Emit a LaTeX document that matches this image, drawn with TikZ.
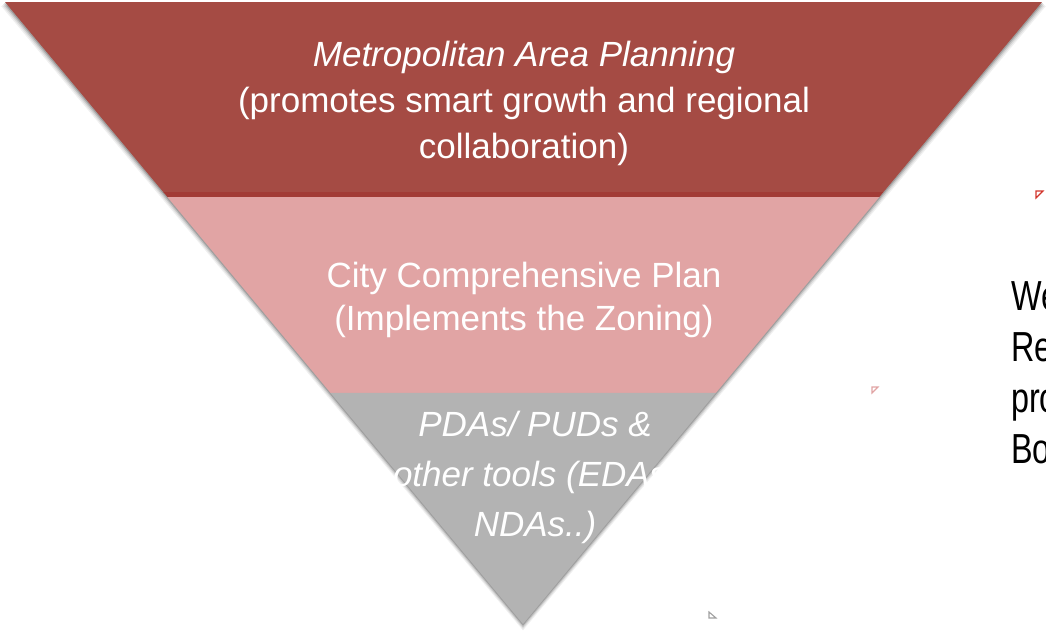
\documentclass[tikz,border=0pt]{standalone}
\usepackage{fontspec}
\setmainfont{Liberation Sans}
\newfontfamily\narrowfont[FakeStretch=0.77]{Liberation Sans}
\definecolor{metro-red}{HTML}{A54B44}
\definecolor{metro-edge}{HTML}{A23B36}
\definecolor{city-pink}{HTML}{E1A4A4}
\definecolor{tools-grey}{HTML}{B3B3B3}
\definecolor{mark-red}{HTML}{D2352C}
\usetikzlibrary{calc}
\tikzset{
  tier/.style={
    draw=none, fill=#1
  },
  tierlabel/.style={
    text=white, align=center, inner sep=0pt,
    font=\fontsize{35}{43}\selectfont
  },
  marker/.style={
    draw=#1, fill=white, line width=1.1pt, line join=miter
  }
}

\begin{document}
\begin{tikzpicture}[x=1pt, y=-1pt]
        \useasboundingbox (0,0) rectangle (1046,637);
        \coordinate (tl) at (5,2);
        \coordinate (tr) at (1042,2);
        \coordinate (apex) at (523,624);

        \coordinate (l1) at ($(tl)!0.3055!(apex)$);
        \coordinate (r1) at ($(tr)!0.3055!(apex)$);
        \coordinate (l2) at ($(tl)!0.3135!(apex)$);
        \coordinate (r2) at ($(tr)!0.3135!(apex)$);
        \coordinate (l3) at ($(tl)!0.6286!(apex)$);
        \coordinate (r3) at ($(tr)!0.6286!(apex)$);

        % soft shadow
        \foreach \d/\o in {4/0.06, 3/0.08, 2/0.12, 1/0.18} {
          \fill[black, opacity=\o] ($(tl)+(-\d,\d)$) -- ($(tr)+(\d,\d)$) -- ($(apex)+(0,1.6*\d)$) -- cycle;
        }

        \fill[tier=metro-red] (tl) -- (tr) -- (r1) -- (l1) -- cycle;
        \fill[tier=metro-edge] (l1) -- (r1) -- (r2) -- (l2) -- cycle;
        \fill[tier=city-pink] (l2) -- (r2) -- (r3) -- (l3) -- cycle;
        \fill[tier=tools-grey] (l3) -- (r3) -- (apex) -- cycle;

        \node[tierlabel, font=\fontsize{35}{46}\selectfont] (metro) at (524,103)
          {\textit{Metropolitan Area Planning}\\(promotes smart growth and regional\\collaboration)};
        \node[tierlabel] (city) at (524,300)
          {City Comprehensive Plan\\(Implements the Zoning)};
        \node[tierlabel, font=\itshape\fontsize{35}{50}\selectfont] (tools) at (535,477)
          {PDAs/ PUDs \&\\other tools (EDAs,\\NDAs..)};

        % cut off by the right edge, as in the slide
        \node[anchor=north west, inner sep=0pt, align=left,
          font=\narrowfont\fontsize{42}{51}\selectfont] (side) at (1011,281)
          {We\\Re\\pro\\Bo};

        \draw[marker=mark-red] (1036,191) -- (1043,191) -- (1036,198) -- cycle;
        \draw[marker=city-pink] (872,387) -- (878,387) -- (872,393) -- cycle;
        \draw[marker=tools-grey!90!black] (709,612) -- (709,618) -- (716,618) -- cycle;
      \end{tikzpicture}
\end{document}
